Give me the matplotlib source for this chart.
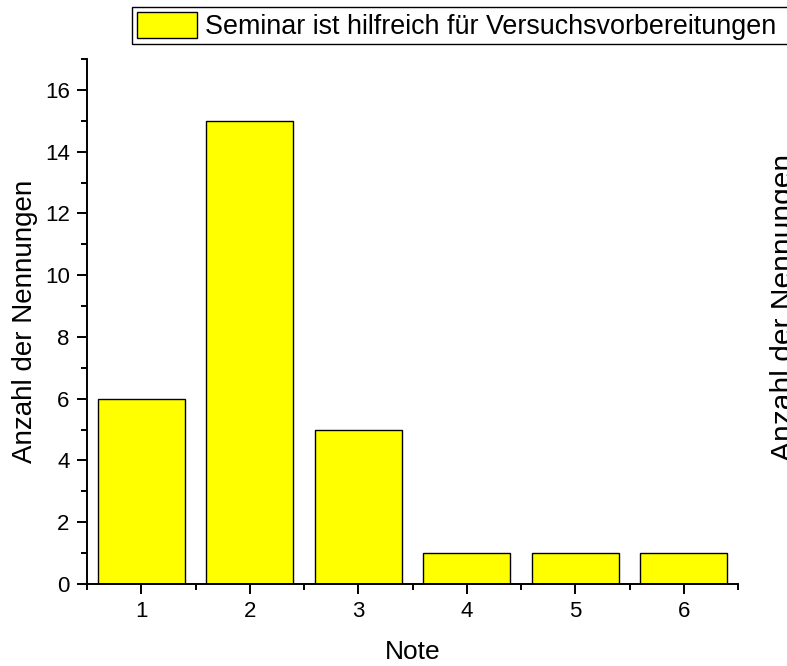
import matplotlib
matplotlib.use("Agg")
import matplotlib.pyplot as plt
from matplotlib.ticker import MultipleLocator, FixedLocator
from matplotlib.patches import Rectangle

noten = [1, 2, 3, 4, 5, 6]
anzahl = [6, 15, 5, 1, 1, 1]
series_label = "Seminar ist hilfreich für Versuchsvorbereitungen"
xlabel = "Note"
ylabel = "Anzahl der Nennungen"

plt.rcParams['font.family'] = ['Liberation Sans', 'DejaVu Sans']

W, H = 787, 666
fig = plt.figure(figsize=(W/100, H/100), dpi=100)
ax = fig.add_axes([87/W, 1-584/H, (738-87)/W, (584-59)/H])

ax.bar(noten, anzahl, width=0.8, color='#FFFF00', edgecolor='black',
       linewidth=1.0, label=series_label, zorder=2)

ax.set_xlim(0.5, 6.5)
ax.set_ylim(0, 17)
ax.xaxis.set_major_locator(FixedLocator(noten))
ax.xaxis.set_minor_locator(MultipleLocator(1, offset=0.5))
ax.yaxis.set_major_locator(MultipleLocator(2))
ax.yaxis.set_minor_locator(MultipleLocator(1))

for s in ['top', 'right']:
    ax.spines[s].set_visible(False)
for s in ['left', 'bottom']:
    ax.spines[s].set_linewidth(1.4)

ax.tick_params(which='major', direction='out', length=7.5, width=1.4,
               labelsize=16, pad=5)
ax.tick_params(which='minor', direction='out', length=4.3, width=1.4)

ax.set_xlabel(xlabel, fontsize=19, labelpad=13)
ax.set_ylabel(ylabel, fontsize=20, labelpad=5)

fig.legend(loc='upper left', bbox_to_anchor=(132/W, 1-7/H),
           bbox_transform=fig.transFigure, fontsize=19.4, frameon=False,
           handlelength=2.2, handleheight=1.1, handletextpad=0.3,
           borderpad=0.2, borderaxespad=0)
# legend frame, running off the right edge as in the reference
fig.add_artist(Rectangle((132/W, 1-44/H), (W + 20 - 132)/W, 37/H,
                         transform=fig.transFigure, fill=False,
                         edgecolor='black', linewidth=1.0))

fig.text(770/W, 1-307.5/H, ylabel, rotation=90, fontsize=21.6,
         ha='left', va='center')

fig.savefig('out.png', dpi=100)
